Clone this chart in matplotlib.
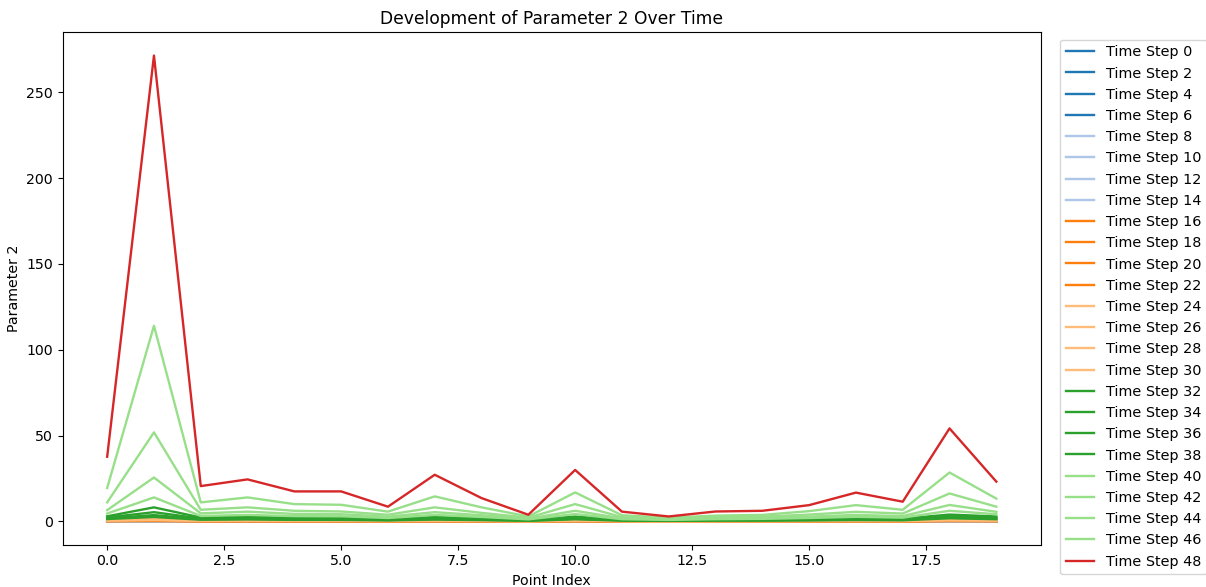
import matplotlib
matplotlib.use("Agg")
import matplotlib.pyplot as plt
import numpy as np

# Point indices along the x axis
point_index = list(range(20))

time_steps = [0, 2, 4, 6, 8, 10, 12, 14, 16, 18, 20, 22, 24,
              26, 28, 30, 32, 34, 36, 38, 40, 42, 44, 46, 48]

# Parameter 2 values per time step
step_00 = [0.02, 0.03, 0.01, 0.02, 0.01, 0.01, 0.01, 0.02, 0.01, 0.00, 0.02, 0.01, 0.00, 0.01, 0.01, 0.01, 0.01, 0.01, 0.03, 0.02]
step_02 = [0.03, 0.04, 0.02, 0.02, 0.02, 0.02, 0.01, 0.02, 0.01, 0.01, 0.02, 0.01, 0.00, 0.01, 0.01, 0.01, 0.01, 0.01, 0.04, 0.02]
step_04 = [0.03, 0.05, 0.02, 0.03, 0.02, 0.02, 0.01, 0.03, 0.02, 0.01, 0.03, 0.01, 0.01, 0.01, 0.01, 0.01, 0.02, 0.01, 0.05, 0.03]
step_06 = [0.04, 0.07, 0.03, 0.03, 0.03, 0.03, 0.02, 0.03, 0.02, 0.01, 0.04, 0.01, 0.01, 0.01, 0.01, 0.02, 0.02, 0.02, 0.06, 0.04]
step_08 = [0.05, 0.09, 0.04, 0.04, 0.03, 0.03, 0.02, 0.04, 0.03, 0.01, 0.05, 0.02, 0.01, 0.02, 0.02, 0.02, 0.03, 0.02, 0.08, 0.05]
step_10 = [0.07, 0.12, 0.05, 0.06, 0.04, 0.04, 0.03, 0.05, 0.04, 0.02, 0.06, 0.02, 0.01, 0.02, 0.02, 0.03, 0.04, 0.03, 0.10, 0.07]
step_12 = [0.09, 0.15, 0.06, 0.07, 0.06, 0.06, 0.04, 0.07, 0.05, 0.02, 0.08, 0.03, 0.02, 0.03, 0.03, 0.04, 0.05, 0.04, 0.13, 0.09]
step_14 = [0.12, 0.19, 0.08, 0.09, 0.07, 0.07, 0.05, 0.09, 0.06, 0.03, 0.10, 0.04, 0.02, 0.04, 0.04, 0.05, 0.06, 0.05, 0.17, 0.12]
step_16 = [0.16, 0.25, 0.10, 0.12, 0.10, 0.10, 0.07, 0.12, 0.08, 0.04, 0.14, 0.05, 0.03, 0.05, 0.05, 0.07, 0.08, 0.07, 0.22, 0.15]
step_18 = [0.21, 0.33, 0.14, 0.16, 0.13, 0.13, 0.09, 0.15, 0.11, 0.05, 0.18, 0.07, 0.04, 0.07, 0.07, 0.09, 0.11, 0.09, 0.29, 0.20]
step_20 = [0.28, 0.44, 0.19, 0.22, 0.18, 0.17, 0.12, 0.20, 0.14, 0.07, 0.24, 0.09, 0.06, 0.09, 0.09, 0.12, 0.15, 0.12, 0.38, 0.27]
step_22 = [0.37, 0.58, 0.25, 0.29, 0.23, 0.23, 0.16, 0.27, 0.19, 0.09, 0.31, 0.12, 0.08, 0.12, 0.12, 0.16, 0.20, 0.16, 0.50, 0.35]
step_24 = [0.49, 0.78, 0.33, 0.38, 0.31, 0.30, 0.21, 0.36, 0.25, 0.12, 0.41, 0.16, 0.10, 0.16, 0.16, 0.21, 0.26, 0.21, 0.66, 0.47]
step_26 = [0.65, 1.05, 0.44, 0.51, 0.41, 0.40, 0.28, 0.48, 0.33, 0.16, 0.55, 0.21, 0.14, 0.21, 0.22, 0.28, 0.35, 0.28, 0.88, 0.62]
step_28 = [0.86, 1.42, 0.59, 0.68, 0.55, 0.53, 0.37, 0.64, 0.44, 0.21, 0.73, 0.28, 0.18, 0.28, 0.29, 0.37, 0.47, 0.38, 1.17, 0.83]
step_30 = [1.10, 1.92, 0.78, 0.90, 0.72, 0.70, 0.49, 0.85, 0.59, 0.28, 0.97, 0.37, 0.24, 0.37, 0.39, 0.49, 0.62, 0.50, 1.55, 1.10]
step_32 = [1.40, 2.60, 1.00, 1.20, 0.92, 0.90, 0.62, 1.10, 0.78, 0.38, 1.25, 0.48, 0.31, 0.48, 0.50, 0.63, 0.82, 0.68, 1.85, 1.30]
step_34 = [1.80, 3.70, 1.30, 1.50, 1.20, 1.18, 0.82, 1.42, 1.00, 0.50, 1.62, 0.62, 0.40, 0.62, 0.65, 0.82, 1.08, 0.90, 2.35, 1.70]
step_36 = [2.30, 5.40, 1.70, 2.00, 1.58, 1.55, 1.08, 1.90, 1.32, 0.68, 2.12, 0.80, 0.52, 0.80, 0.85, 1.08, 1.42, 1.20, 3.05, 2.22]
step_38 = [3.00, 8.20, 2.28, 2.70, 2.15, 2.08, 1.42, 2.60, 1.78, 0.90, 2.85, 1.02, 0.68, 1.02, 1.10, 1.42, 1.90, 1.60, 4.00, 2.90]
step_40 = [4.60, 14.0, 3.20, 3.80, 3.10, 3.00, 2.00, 3.80, 2.60, 1.20, 4.30, 1.30, 0.90, 1.30, 1.50, 2.00, 2.70, 2.20, 6.20, 4.20]
step_42 = [6.60, 25.6, 4.70, 5.70, 4.40, 4.20, 2.80, 5.40, 3.60, 1.60, 6.20, 1.80, 1.20, 1.80, 2.00, 2.80, 3.80, 3.10, 9.60, 5.60]
step_44 = [11.1, 51.9, 6.80, 8.20, 6.20, 5.80, 3.90, 8.20, 5.00, 2.20, 10.1, 2.50, 1.60, 2.40, 2.80, 4.00, 5.60, 4.60, 16.3, 8.60]
step_46 = [19.5, 114.0, 11.1, 14.0, 10.1, 9.70, 5.70, 14.6, 8.20, 2.90, 16.9, 3.60, 2.20, 3.40, 3.80, 6.00, 9.50, 6.80, 28.5, 13.3]
step_48 = [37.7, 271.4, 20.6, 24.5, 17.5, 17.5, 8.60, 27.2, 13.6, 3.90, 30.0, 5.70, 2.90, 5.80, 6.20, 9.50, 16.8, 11.5, 54.2, 23.2]

all_steps = [step_00, step_02, step_04, step_06, step_08, step_10, step_12,
             step_14, step_16, step_18, step_20, step_22, step_24, step_26,
             step_28, step_30, step_32, step_34, step_36, step_38, step_40,
             step_42, step_44, step_46, step_48]

# colour groups of four steps, taken from tab20
tab20 = plt.get_cmap("tab20").colors
fig, ax = plt.subplots(figsize=(12.06, 5.87), dpi=100)
for i, (step, values) in enumerate(zip(time_steps, all_steps)):
    color = tab20[min(i // 4, 6)]
    ax.plot(point_index, values, color=color, linewidth=1.7, label=f"Time Step {step}")

ax.set_title("Development of Parameter 2 Over Time", fontsize=12.3)
ax.set_xlabel("Point Index", fontsize=10.2)
ax.set_ylabel("Parameter 2", fontsize=10.2)
ax.tick_params(labelsize=10.2)
ax.legend(loc="upper left", bbox_to_anchor=(1.012, 1.0), fontsize=10.4)

plt.subplots_adjust(left=0.052, right=0.863, top=0.945, bottom=0.072)
plt.savefig("out.png", dpi=100)
